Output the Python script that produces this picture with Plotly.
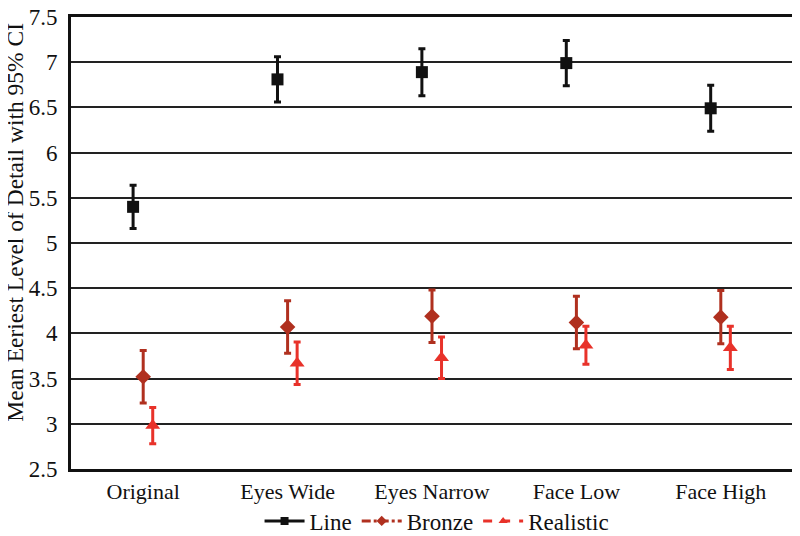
import plotly.graph_objects as go

categories = ["Original", "Eyes Wide", "Eyes Narrow", "Face Low", "Face High"]

line_mean = [5.40, 6.81, 6.89, 6.99, 6.49]
line_ci = [0.24, 0.25, 0.26, 0.25, 0.255]

bronze_mean = [3.52, 4.07, 4.19, 4.12, 4.18]
bronze_ci = [0.29, 0.29, 0.29, 0.29, 0.295]

realistic_mean = [2.98, 3.67, 3.73, 3.87, 3.84]
realistic_ci = [0.20, 0.235, 0.23, 0.21, 0.24]

y_ticks = [2.5, 3, 3.5, 4, 4.5, 5, 5.5, 6, 6.5, 7, 7.5]
y_title = "Mean Eeriest Level of Detail with 95% CI"

BLACK = "#111111"
BRONZE = "#b0301f"
RED = "#e8322a"
FONT = "Liberation Serif"

idx = list(range(len(categories)))

series = [
    ("Line", line_mean, line_ci, -0.07, BLACK, "square", 12, "solid"),
    ("Bronze", bronze_mean, bronze_ci, 0.0, BRONZE, "diamond", 12, "dashdot"),
    ("Realistic", realistic_mean, realistic_ci, 0.066, RED, "triangle-up", 13, "dash"),
]

fig = go.Figure()
for name, mean, ci, off, color, sym, size, dash in series:
    fig.add_trace(go.Scatter(
        x=[i + off for i in idx], y=mean, mode="markers", name=name,
        showlegend=False,
        marker=dict(symbol=sym, size=size, color=color),
        error_y=dict(type="data", array=ci, visible=True, color=color,
                     thickness=3, width=3.5),
    ))
for name, mean, ci, off, color, sym, size, dash in series:
    fig.add_trace(go.Scatter(
        x=[None], y=[None], mode="lines+markers", name=name,
        line=dict(color=color, width=3, dash=dash),
        marker=dict(symbol=sym, size=8, color=color),
    ))

fig.update_layout(
    width=800, height=536,
    margin=dict(l=63, r=15, t=9, b=75, autoexpand=False),
    paper_bgcolor="white", plot_bgcolor="white",
    font=dict(family=FONT, size=23, color="#111111"),
    showlegend=True,
    legend=dict(orientation="h", x=0.507, xanchor="center",
                yref="container", y=0.043, yanchor="middle",
                font=dict(size=23), itemwidth=40,
                bgcolor="rgba(0,0,0,0)"),
    annotations=[dict(
        text=y_title, textangle=-90, showarrow=False,
        xref="paper", yref="paper", x=0, y=0.545,
        xanchor="center", yanchor="middle", xshift=-56,
        font=dict(size=23.5, family=FONT, color="#111111"),
    )],
)
fig.update_xaxes(
    range=[-0.5, len(categories) - 0.5], tickmode="array", tickvals=idx,
    ticktext=categories, showgrid=False, zeroline=False, automargin=False,
    showline=True, linecolor="#111111", linewidth=3, mirror=True,
    ticks="", tickfont=dict(size=22), ticklabelstandoff=1,
    ticklabeloverflow="allow",
)
fig.update_yaxes(
    range=[2.5, 7.5], tickmode="array", tickvals=y_ticks,
    showgrid=True, gridcolor="#222222", gridwidth=1.5, zeroline=False,
    automargin=False,
    showline=True, linecolor="#111111", linewidth=3, mirror=True,
    ticks="", tickfont=dict(size=23), ticklabelstandoff=6,
    ticklabeloverflow="allow",
)

fig.write_html("out.html")
